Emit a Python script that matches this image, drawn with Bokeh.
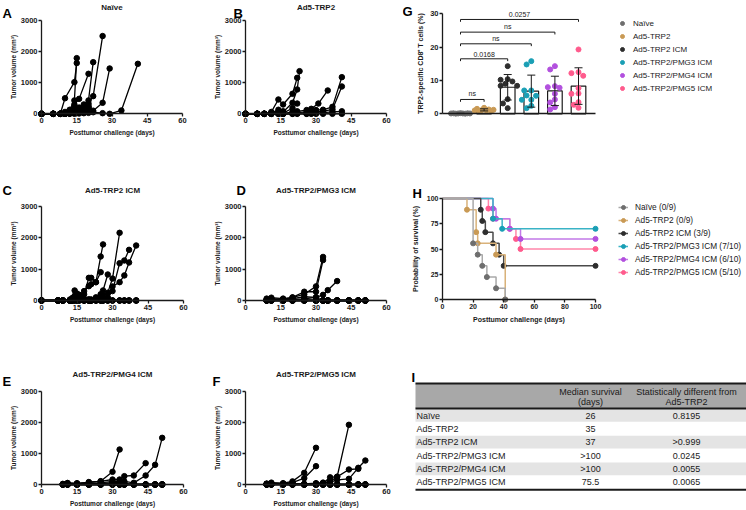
import numpy as np
from bokeh.plotting import figure
from bokeh.models import Range1d, Legend, LegendItem, FixedTicker
from bokeh.layouts import row, column
from bokeh.embed import file_html
from bokeh.resources import INLINE
from bokeh.core.properties import value

FONT = "Liberation Sans"
INK = "#1a1a1a"

# ---------------- tumor growth data (days, volume mm3) ----------------
naive_mice = [
    ([0, 5, 8, 10, 14, 15], [0, 0, 0, 500, 1018, 1630]),
    ([0, 5, 8, 10, 12, 14, 15], [0, 0, 0, 60, 130, 430, 1790]),
    ([0, 5, 8, 10, 12, 14, 16, 20], [0, 0, 0, 20, 80, 300, 480, 1286]),
    ([0, 5, 8, 10, 12, 14, 16, 18, 20, 22], [0, 0, 0, 10, 50, 160, 200, 300, 430, 1660]),
    ([0, 5, 8, 10, 12, 14, 16, 18, 20, 22, 26], [0, 0, 0, 0, 30, 80, 150, 230, 330, 568, 2500]),
    ([0, 5, 8, 10, 12, 14, 16, 18, 20, 22, 26, 29], [0, 0, 0, 0, 10, 30, 60, 100, 200, 100, 354, 1457]),
    ([0, 5, 8, 10, 12, 14, 16, 18, 20, 22, 26, 29, 34, 41], [0, 0, 0, 0, 0, 0, 10, 20, 30, 50, 20, 0, 107, 1607]),
    ([0, 5, 8, 10, 12, 14, 16, 18, 20], [0, 0, 0, 0, 20, 60, 120, 180, 260]),
    ([0, 5, 8, 10, 12, 14, 16, 18, 20], [0, 0, 0, 0, 10, 40, 80, 150, 200]),
]

trp2_days = [0, 5, 8, 11, 14, 16, 20, 22, 26, 28, 30, 33, 37, 41]
trp2_mice = [
    ([0, 5, 8, 11, 14, 16, 20, 22], [0, 0, 0, 60, 460, 300, 643, 1157]),
    ([0, 5, 8, 11, 14, 16, 20, 22, 23], [0, 0, 0, 30, 130, 60, 354, 782, 1371]),
    ([0, 5, 8, 11, 14, 16, 20, 22], [0, 0, 0, 10, 60, 20, 180, 330]),
    ([0, 5, 8, 11, 14, 16], [0, 0, 0, 0, 40, 80]),
    ([0, 5, 8, 11, 14, 16, 20, 22, 26, 28, 31, 35], [0, 0, 0, 0, 20, 10, 50, 80, 120, 160, 330, 750]),
    (trp2_days, [0, 0, 0, 0, 10, 0, 30, 40, 60, 100, 120, 130, 224, 1178]),
    (trp2_days, [0, 0, 0, 0, 0, 0, 10, 20, 20, 40, 60, 80, 140, 878]),
    (trp2_days, [0, 0, 0, 0, 0, 0, 0, 10, 0, 10, 20, 40, 60, 80]),
    (trp2_days, [0] * 14),
]

icm_days = [0, 7, 9, 12, 13, 14, 15, 16, 18, 20, 21, 23, 25, 26, 28, 30, 33, 35, 37, 40]
icm_mice = [
    (icm_days[:14], [0, 0, 0, 30, 80, 320, 220, 180, 200, 723, 723, 585, 1404, 1790]),
    (icm_days[:13], [0, 0, 0, 10, 40, 150, 200, 100, 300, 457, 520, 585, 904]),
    (icm_days[:15], [0, 0, 0, 0, 20, 60, 80, 40, 60, 40, 30, 100, 200, 320, 830]),
    (icm_days[:17], [0, 0, 0, 0, 10, 30, 20, 30, 20, 10, 20, 30, 60, 150, 250, 700, 2160]),
    (icm_days[:19], [0, 0, 0, 0, 0, 20, 10, 20, 10, 0, 10, 20, 40, 60, 100, 300, 1190, 1277, 1617]),
    (icm_days, [0, 0, 0, 0, 0, 10, 0, 10, 0, 0, 0, 10, 20, 40, 50, 447, 585, 800, 1213, 1755]),
    (icm_days, [0] * 20),
    (icm_days, [0, 0, 0, 0, 0, 30, 40, 20, 0, 0, 0, 0, 0, 0, 0, 0, 0, 0, 0, 0]),
    (icm_days, [0] * 20),
]

pmg3_days = [9, 11, 16, 20, 25, 30, 33, 35, 39, 44, 48, 51]
pmg3_mice = [
    (pmg3_days[:7], [60, 90, 60, 90, 200, 450, 1390]),
    (pmg3_days[:7], [30, 50, 40, 100, 280, 280, 1290]),
    (pmg3_days[:9], [20, 40, 30, 60, 120, 100, 180, 330, 620]),
    (pmg3_days, [10, 30, 20, 40, 50, 100, 0, 0, 0, 0, 0, 0]),
    (pmg3_days, [0, 10, 0, 10, 20, 0, 0, 0, 0, 0, 0, 0]),
] + [(pmg3_days, [0] * 12)] * 5

pmg4_days = [9, 11, 15, 20, 25, 30, 33, 35, 39, 44, 48, 51]
pmg4_mice = [
    (pmg4_days[:7], [20, 40, 40, 60, 107, 409, 1129]),
    (pmg4_days[:10], [10, 50, 30, 80, 100, 161, 161, 269, 290, 688]),
    (pmg4_days, [10, 20, 20, 40, 50, 100, 100, 100, 54, 290, 634, 1505]),
    (pmg4_days[:8], [0, 10, 10, 20, 30, 60, 80, 60]),
    (pmg4_days, [0, 0, 10, 0, 10, 20, 40, 30, 0, 0, 0, 0]),
] + [(pmg4_days, [0] * 12)] * 5

pmg5_days = [9, 11, 16, 20, 25, 30, 33, 36, 39, 44, 48, 51]
pmg5_mice = [
    (pmg5_days[:6], [30, 60, 40, 100, 376, 1183]),
    (pmg5_days[:6], [20, 40, 30, 60, 204, 591]),
    (pmg5_days[:10], [10, 20, 10, 20, 0, 30, 40, 230, 250, 1925]),
    (pmg5_days[:11], [10, 10, 20, 30, 20, 40, 60, 100, 247, 484, 505]),
    (pmg5_days, [0, 10, 10, 20, 10, 20, 50, 80, 150, 183, 538, 774]),
    (pmg5_days, [0, 20, 0, 0, 0, 0, 0, 0, 0, 0, 0, 0]),
] + [(pmg5_days, [0] * 12)] * 4

# ---------------- panel G: TRP2-specific CD8+ T cells (%) ----------------
groups = ["Naïve", "Ad5-TRP2", "Ad5-TRP2 ICM", "Ad5-TRP2/PMG3 ICM", "Ad5-TRP2/PMG4 ICM", "Ad5-TRP2/PMG5 ICM"]
g_naive = [0.05, 0.1, 0.15, 0.1, 0.2, 0.1, 0.05, 0.15, 0.1]
g_trp2 = [0.8, 1.0, 1.2, 0.9, 1.5, 1.1, 1.3, 1.8, 1.0]
g_icm = [14.3, 10.2, 10.4, 9.7, 8.4, 8.4, 9.0, 4.4, 3.1, 1.7]
g_pmg3 = [15.8, 14.8, 7.0, 7.0, 5.5, 5.4, 4.2, 4.2, 1.7, 2.4]
g_pmg4 = [13.3, 14.3, 8.0, 8.3, 7.8, 4.3, 6.0, 3.4, 1.3, 2.0]
g_pmg5 = [19.3, 11.4, 12.2, 12.5, 7.7, 6.0, 6.1, 3.5, 1.8, 2.7]
g_values = [g_naive, g_trp2, g_icm, g_pmg3, g_pmg4, g_pmg5]
# comparisons: (group a, group b, label, bracket height %)
g_brackets = [(0, 1, "ns", 4.3), (0, 2, "0.0168", 16.5), (0, 3, "ns", 21.0),
              (0, 4, "ns", 24.5), (0, 5, "0.0257", 28.3)]

g_colors = ["#6e6e6e", "#c99a55", "#2e2e2e", "#1a9fb5", "#b250de", "#ff5b8d"]
h_line_colors = ["#a9a9a9", "#d9b27a", "#4a4a4a", "#3ab3c6", "#c27ae8", "#ff86aa"]

# ---------------- panel H: survival ----------------
surv_labels = ["Naïve (0/9)", "Ad5-TRP2 (0/9)", "Ad5-TRP2 ICM (3/9)",
               "Ad5-TRP2/PMG3 ICM (7/10)", "Ad5-TRP2/PMG4 ICM (6/10)", "Ad5-TRP2/PMG5 ICM (5/10)"]
naive_t = [0, 20, 23, 26, 29, 35, 41]
naive_s = [100, 55.6, 44.4, 33.3, 22.2, 11.1, 0]
trp2_t = [0, 16, 22, 23, 35, 41]
trp2_s = [100, 88.9, 66.7, 55.6, 44.4, 0]
icm_t = [0, 25, 26, 28, 33, 37, 40, 100]
icm_s = [100, 88.9, 77.8, 66.7, 55.6, 44.4, 33.3, 33.3]
pmg3_t = [0, 33, 39, 100]
pmg3_s = [100, 80, 70, 70]
pmg4_t = [0, 33, 35, 44, 51, 100]
pmg4_s = [100, 90, 80, 70, 60, 60]
pmg5_t = [0, 30, 33, 44, 48, 51, 100]
pmg5_s = [100, 90, 80, 70, 60, 50, 50]
surv_t = [naive_t, trp2_t, icm_t, pmg3_t, pmg4_t, pmg5_t]
surv_s = [naive_s, trp2_s, icm_s, pmg3_s, pmg4_s, pmg5_s]

# ---------------- panel I: table ----------------
tbl_groups = ["Naïve", "Ad5-TRP2", "Ad5-TRP2 ICM", "Ad5-TRP2/PMG3 ICM", "Ad5-TRP2/PMG4 ICM", "Ad5-TRP2/PMG5 ICM"]
tbl_median = ["26", "35", "37", ">100", ">100", "75.5"]
tbl_pvalue = ["0.8195", "", ">0.999", "0.0245", "0.0055", "0.0065"]
tbl_head_median = ["Median survival", "(days)"]
tbl_head_p = ["Statistically different from", "Ad5-TRP2"]


# ---------------- helpers ----------------
def lin(p0, v0, p1, v1):
    k = (v1 - v0) / (p1 - p0)
    return lambda p: v0 + (p - p0) * k


def panel_fig(box, fx, fy, **kw):
    X0, Y0, X1, Y1 = box
    p = figure(width=int(round(X1 - X0)), height=int(round(Y1 - Y0)),
               x_range=Range1d(fx(X0), fx(X1)), y_range=Range1d(fy(Y1), fy(Y0)),
               output_backend="svg", toolbar_location=None, min_border=0, title=None, **kw)
    p.grid.visible = False
    p.outline_line_color = None
    p.background_fill_color = "white"
    p.border_fill_color = "white"
    return p


def style_axis(ax, tick_size="7.5px", label_size="6.5px", label_standoff=1):
    ax.axis_line_width = 1.3
    ax.axis_line_color = INK
    ax.major_tick_line_width = 1.3
    ax.major_tick_line_color = INK
    ax.major_tick_in = 0
    ax.major_tick_out = 3
    ax.minor_tick_line_color = None
    ax.major_label_text_font = FONT
    ax.major_label_text_font_style = "bold"
    ax.major_label_text_font_size = tick_size
    ax.major_label_text_color = INK
    ax.axis_label_text_font = FONT
    ax.axis_label_text_font_style = "bold"
    ax.axis_label_text_font_size = label_size
    ax.axis_label_text_color = INK
    ax.major_label_standoff = 1
    ax.axis_label_standoff = label_standoff


def letter(p, fx, fy, txt, px, py):
    p.text(x=[fx(px)], y=[fy(py)], text=[txt], text_font=value(FONT), text_font_style="bold",
           text_font_size="13px", text_baseline="alphabetic", text_align="left", text_color="#000000")


def tumor_panel(title, ltr, mice, box, x0p, x60p, y0p, y3000p, title_y, lxy):
    fx = lin(x0p, 0, x60p, 60)
    fy = lin(y0p, 0, y3000p, 3000)
    p = panel_fig(box, fx, fy)
    for d, v in mice:
        p.line(d, v, line_color="#000000", line_width=1.3)
        p.scatter(d, v, size=5.5, fill_color="#000000", line_color="#000000")
    p.xaxis.ticker = FixedTicker(ticks=[0, 15, 30, 45, 60])
    p.yaxis.ticker = FixedTicker(ticks=[0, 1000, 2000, 3000])
    p.xaxis.bounds = (0, 60)
    p.yaxis.bounds = (0, 3000)
    p.xaxis.fixed_location = 0
    p.yaxis.fixed_location = 0
    p.xaxis.axis_label = "Posttumor challenge (days)"
    p.yaxis.axis_label = "Tumor volume (mm³)"
    style_axis(p.xaxis[0], label_standoff=3)
    style_axis(p.yaxis[0], label_standoff=1)
    p.text(x=[30], y=[fy(title_y)], text=[title], text_font=value(FONT), text_font_style="bold",
           text_font_size="8px", text_align="center", text_baseline="middle", text_color=INK)
    letter(p, fx, fy, ltr, lxy[0], lxy[1])
    return p


# column / row boxes in page pixels
C1, C2, C3, C4 = 0, 205, 402, 746
R1, R2, R3, R4 = 0, 165, 330, 510

pA = tumor_panel("Naïve", "A", naive_mice, (C1, R1, C2, R2), 41, 182, 113.3, 20, 7.3, (2, 12.5))
pB = tumor_panel("Ad5-TRP2", "B", trp2_mice, (C2, R1, C3, R2), 245, 386, 113.3, 20, 7.0, (233, 12.5))
pC = tumor_panel("Ad5-TRP2 ICM", "C", icm_mice, (C1, R2, C2, R3), 41, 183, 300, 206, 190, (2, 190))
pD = tumor_panel("Ad5-TRP2/PMG3 ICM", "D", pmg3_mice, (C2, R2, C3, R3), 245, 386, 300, 206, 190, (236, 190))
pE = tumor_panel("Ad5-TRP2/PMG4 ICM", "E", pmg4_mice, (C1, R3, C2, R4), 41, 183, 484, 391, 373.5, (2, 380.5))
pF = tumor_panel("Ad5-TRP2/PMG5 ICM", "F", pmg5_mice, (C2, R3, C3, R4), 245, 386, 484, 391, 373.5, (212, 380.5))

# ---------------- G ----------------
gfx = lin(460, 0, 578, 5)
gfy = lin(113.3, 0, 13.3, 30)
pG = panel_fig((C3, R1, C4, R2), gfx, gfy)
g_axis_x = gfx(442)
g_axis_end = gfx(595)
xs = np.arange(len(groups))
means = [float(np.mean(v)) for v in g_values]
sds = [float(np.std(v, ddof=1)) for v in g_values]
pG.vbar(x=xs, top=means, bottom=0, width=0.62, fill_color="white", line_color=INK, line_width=1.2)

PXX, PXY = 23.6, 3.333
g_renderers = []
for i, vals in enumerate(g_values):
    placed = []
    px_list = []
    svals = sorted(vals, reverse=True)
    for v in svals:
        best, best_d = 0.0, -1
        for cand in [0, -0.2, 0.2, -0.1, 0.1, -0.3, 0.3, -0.4, 0.4]:
            dmin = min([np.hypot((cand - ox) * PXX, (v - oy) * PXY) for ox, oy in placed] or [99])
            if dmin >= 5:
                best = cand
                break
            if dmin > best_d:
                best, best_d = cand, dmin
        placed.append((best, v))
        px_list.append(i + best)
    r = pG.scatter(px_list, svals, size=5, fill_color=g_colors[i], line_color=g_colors[i])
    g_renderers.append(r)

lo = [m - s for m, s in zip(means, sds)]
hi = [m + s for m, s in zip(means, sds)]
pG.segment(x0=xs, y0=lo, x1=xs, y1=hi, line_color=INK, line_width=1)
pG.segment(x0=xs - 0.17, y0=hi, x1=xs + 0.17, y1=hi, line_color=INK, line_width=1)
pG.segment(x0=xs - 0.17, y0=lo, x1=xs + 0.17, y1=lo, line_color=INK, line_width=1)

bx0 = [a for a, b, t, h in g_brackets]
bx1 = [b for a, b, t, h in g_brackets]
bh = [h for a, b, t, h in g_brackets]
pG.segment(x0=bx0, y0=bh, x1=bx1, y1=bh, line_color=INK, line_width=1)
pG.segment(x0=bx0, y0=bh, x1=bx0, y1=[h - 0.7 for h in bh], line_color=INK, line_width=1)
pG.segment(x0=bx1, y0=bh, x1=bx1, y1=[h - 0.7 for h in bh], line_color=INK, line_width=1)
pG.text(x=[(a + b) / 2 for a, b in zip(bx0, bx1)], y=[h + 0.6 for h in bh],
        text=[t for a, b, t, h in g_brackets], text_align="center", text_baseline="bottom",
        text_font=value(FONT), text_font_size="7px", text_color=INK)

pG.yaxis.ticker = FixedTicker(ticks=[0, 10, 20, 30])
pG.yaxis.bounds = (0, 30)
pG.yaxis.fixed_location = g_axis_x
pG.yaxis.axis_label = "TRP2-specific CD8⁺ T cells (%)"
pG.xaxis.ticker = FixedTicker(ticks=[])
pG.xaxis.bounds = (g_axis_x, g_axis_end)
pG.xaxis.fixed_location = 0
style_axis(pG.xaxis[0])
style_axis(pG.yaxis[0], label_size="7px", label_standoff=3)
pG.xaxis.major_tick_line_color = None

legG = Legend(items=[LegendItem(label=g, renderers=[r]) for g, r in zip(groups, g_renderers)],
              location=(215, 72), padding=0, margin=0, spacing=3, glyph_width=10, glyph_height=10,
              label_height=10, label_standoff=6, label_text_font=FONT, label_text_font_size="8px",
              label_text_color=INK, border_line_color=None, background_fill_alpha=0)
pG.add_layout(legG)
letter(pG, gfx, gfy, "G", 402, 10.5)

# ---------------- H ----------------
hfx = lin(442, 0, 595, 100)
hfy = lin(299, 0, 198, 100)
pH = panel_fig((C3, R2, C4, R3), hfx, hfy)
h_items = [None] * 6
for i in reversed(range(6)):
    t, s = surv_t[i], surv_s[i]
    r1 = pH.step(t, s, mode="after", line_color=h_line_colors[i], line_width=1.5)
    r2 = pH.scatter(t[1:], s[1:], size=5, fill_color=g_colors[i], line_color=g_colors[i])
    h_items[i] = LegendItem(label=surv_labels[i], renderers=[r1, r2])
pH.xaxis.ticker = FixedTicker(ticks=[0, 20, 40, 60, 80, 100])
pH.yaxis.ticker = FixedTicker(ticks=[0, 25, 50, 75, 100])
pH.xaxis.bounds = (0, 100)
pH.yaxis.bounds = (0, 100)
pH.xaxis.fixed_location = 0
pH.yaxis.fixed_location = 0
pH.xaxis.axis_label = "Posttumor challenge (days)"
pH.yaxis.axis_label = "Probability of survival (%)"
style_axis(pH.xaxis[0], tick_size="7px", label_size="7px", label_standoff=4)
style_axis(pH.yaxis[0], tick_size="7px", label_size="7px", label_standoff=5)
legH = Legend(items=h_items, location=(216, 53), padding=0, margin=0, spacing=3, glyph_width=10,
              glyph_height=10, label_height=10, label_standoff=7, label_text_font=FONT,
              label_text_font_size="8.3px", label_text_color=INK, border_line_color=None,
              background_fill_alpha=0)
pH.add_layout(legH)
letter(pH, hfx, hfy, "H", 412, 193)

# ---------------- I (table) ----------------
# table coordinates: x in px from the panel's left edge, y in table rows (downward negative)
ifx = lin(402, 0, 746, 344)
ify = lin(408, 0, 421.33, -1)
HEAD = 1.875
n = len(tbl_groups)
pI = panel_fig((C3, R3, C4, R4), ifx, ify, x_axis_type=None, y_axis_type=None)
TX0, TX1 = 13, 344
pI.quad(left=[TX0], right=[TX1], top=[HEAD], bottom=[0], fill_color="#a8a8a8", line_color=None)
band_rows = [i for i in range(n) if i % 2 == 0]
pI.quad(left=[TX0] * len(band_rows), right=[TX1] * len(band_rows),
        top=[-(i + 0.05) for i in band_rows], bottom=[-(i + 1.0) for i in band_rows],
        fill_color="#e4e4e4", line_color=None)
pI.segment(x0=[TX0] * 3, y0=[HEAD, 0, -(n + 0.1)], x1=[TX1] * 3, y1=[HEAD, 0, -(n + 0.1)],
           line_color=INK, line_width=2)
ys = [-(i + 0.55) for i in range(n)]
tf = dict(text_font=value(FONT), text_font_size="9px", text_color=INK, text_baseline="middle")
pI.text(x=[TX0 + 1] * n, y=ys, text=tbl_groups, text_align="left", **tf)
pI.text(x=[188] * n, y=ys, text=tbl_median, text_align="center", **tf)
pI.text(x=[284] * n, y=ys, text=tbl_pvalue, text_align="center", **tf)
pI.text(x=[188, 188], y=[1.275, 0.47], text=tbl_head_median, text_align="center", **tf)
pI.text(x=[284, 284], y=[1.275, 0.47], text=tbl_head_p, text_align="center", **tf)
letter(pI, ifx, ify, "I", 411, 377)

layout = column(row(pA, pB, pG), row(pC, pD, pH), row(pE, pF, pI))
open("out.html", "w").write(file_html(layout, INLINE))
